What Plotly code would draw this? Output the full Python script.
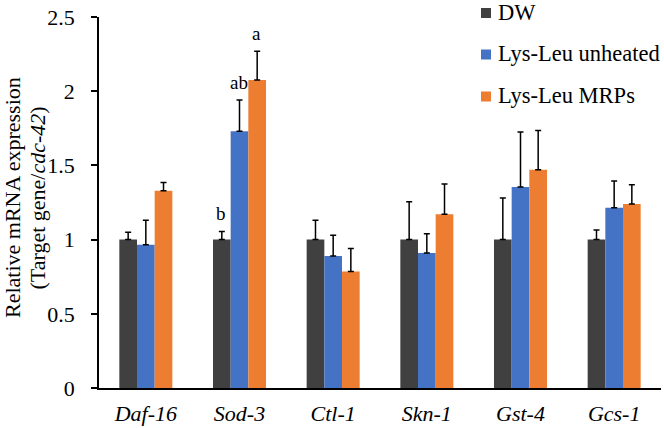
import plotly.graph_objects as go

genes = ["Daf-16", "Sod-3", "Ctl-1", "Skn-1", "Gst-4", "Gcs-1"]
series_names = ["DW", "Lys-Leu unheated", "Lys-Leu MRPs"]
dw = [1.0, 1.0, 1.0, 1.0, 1.0, 1.0]
dw_err = [0.05, 0.055, 0.13, 0.255, 0.28, 0.065]
unheated = [0.965, 1.73, 0.89, 0.91, 1.355, 1.215]
unheated_err = [0.165, 0.21, 0.14, 0.13, 0.37, 0.18]
mrps = [1.33, 2.075, 0.785, 1.17, 1.47, 1.24]
mrps_err = [0.055, 0.195, 0.155, 0.205, 0.265, 0.13]
colors = ["#404040", "#4472C4", "#ED7D31"]
ytick_vals = [0, 0.5, 1, 1.5, 2, 2.5]
ytick_text = ["0", "0.5", "1", "1.5", "2", "2.5"]
title_lines = ["Relative mRNA expression", "(Target gene/<i>cdc-42</i>)"]

# significance letters for Sod-3: (gene, series index, label)
letters = [("Sod-3", 0, "b"), ("Sod-3", 1, "ab"), ("Sod-3", 2, "a")]

FONT = "Liberation Serif"
W, H = 664, 428
ML, MR, MT, MB = 99, 3, 17, 40
PW, PH = W - ML - MR, H - MT - MB


def px(x):
    return (x - ML) / PW


def py(y):
    return (H - MB - y) / PH


fig = go.Figure()
vals = [dw, unheated, mrps]
errs = [dw_err, unheated_err, mrps_err]
for i, name in enumerate(series_names):
    fig.add_trace(go.Bar(
        x=genes, y=vals[i], name=name, marker_color=colors[i],
        marker_line_width=0, showlegend=False,
        error_y=dict(type="data", array=errs[i], arrayminus=[0] * len(genes),
                     symmetric=False, color="black", thickness=1.5, width=3),
    ))

bar_px = 17.7
for g, si, lab in letters:
    k = genes.index(g)
    fig.add_annotation(x=g, y=vals[si][k] + errs[si][k], text=lab,
                       showarrow=False, xref="x", yref="y",
                       xshift=(si - 1) * bar_px - 1, yshift=5, yanchor="bottom",
                       font=dict(family=FONT, size=19, color="black"))

# manual legend (square + label) to match the reference spacing
leg_rows = [13, 54.5, 96.5]
for i, name in enumerate(series_names):
    yc = leg_rows[i]
    fig.add_shape(type="rect", xref="paper", yref="paper",
                  x0=px(481), x1=px(491), y0=py(yc - 5), y1=py(yc + 5),
                  fillcolor=colors[i], line_width=0)
    fig.add_annotation(x=px(497), y=py(yc - 1), xref="paper", yref="paper",
                       text=name, showarrow=False, xanchor="left", yanchor="middle",
                       borderpad=0,
                       font=dict(family=FONT, size=22.5, color="black"))

# two-line y-axis title with tight line spacing
for xc, line in zip([13, 37.5], title_lines):
    fig.add_annotation(x=px(xc), y=py(198), xref="paper", yref="paper",
                       text=line, textangle=-90, showarrow=False,
                       xanchor="center", yanchor="middle",
                       font=dict(family=FONT, size=22, color="black"))

fig.update_layout(
    width=W, height=H,
    margin=dict(l=ML, r=MR, t=MT, b=MB),
    paper_bgcolor="white", plot_bgcolor="white",
    barmode="group", bargap=0.434, bargroupgap=0,
    font=dict(family=FONT, size=22, color="black"),
    showlegend=False,
    xaxis=dict(tickmode="array", tickvals=genes,
               ticktext=[f"<i>{g}</i>" for g in genes],
               showline=True, linecolor="black", linewidth=1.5,
               ticks="", tickfont=dict(family=FONT, size=22), ticklabelstandoff=5),
    yaxis=dict(range=[0, 2.5], tickmode="array",
               tickvals=ytick_vals, ticktext=ytick_text,
               showline=True, linecolor="black", linewidth=1.5,
               ticks="outside", ticklen=6, tickwidth=1.5, tickcolor="black",
               showgrid=False, zeroline=False,
               tickfont=dict(family=FONT, size=22), ticklabelstandoff=12),
)
fig.write_html("out.html")
